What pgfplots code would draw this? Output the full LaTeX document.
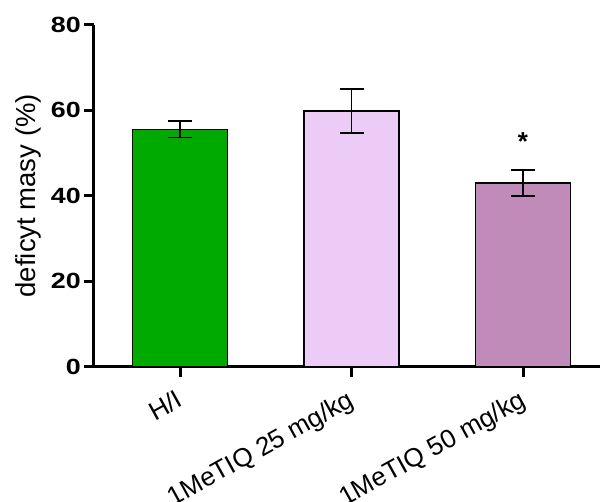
\documentclass[border=0pt]{standalone}
\usepackage{pgfplots}
\pgfplotsset{compat=1.18}
\usepackage{fontspec}
\setmainfont{Liberation Sans}
\usepackage{graphicx}
\definecolor{barG}{RGB}{0,170,0}
\definecolor{barP}{RGB}{236,204,246}
\definecolor{barM}{RGB}{192,139,184}
\begin{document}
\begin{tikzpicture}
\begin{axis}[
  scale only axis, width=506pt, height=342pt,
  xmin=-0.5015, xmax=2.449, ymin=0, ymax=80,
  axis x line=bottom, axis y line=left,
  axis line style={-, line width=3pt, black},
  ytick={0,20,40,60,80}, xtick={0,1,2},
  xticklabels={H/I, 1MeTIQ 25 mg/kg, 1MeTIQ 50 mg/kg},
  tick align=outside, major tick length=10pt,
  tick style={line width=3pt, black},
  yticklabel={\scalebox{1.22}[1]{\pgfmathprintnumber{\tick}}},
  yticklabel style={font=\fontsize{22}{22}\selectfont\bfseries, /pgf/number format/assume math mode=true, anchor=east, inner sep=0pt, xshift=-3pt},
  xticklabel style={font=\fontsize{26}{26}\selectfont, xshift=-5pt, yshift=-12pt, rotate=29, anchor=north east, inner sep=0pt},
  ylabel={deficyt masy (\%)},
  ylabel style={font=\fontsize{27.5}{27.5}\selectfont, at={([xshift=-53pt]axis description cs:0,0.5)}, anchor=south, inner sep=0pt},
  clip=false,
]
\addplot[ybar, bar width=95pt, bar shift=0pt, fill=barG, draw=black, line width=1.5pt,
  error bars/.cd, y dir=both, y explicit, error bar style={line width=1.4pt}, error mark options={rotate=90, line width=1.7pt, mark size=12pt}]
  coordinates {(0,55.5) +- (0,1.9)};
\addplot[ybar, bar width=95pt, bar shift=0pt, fill=barP, draw=black, line width=1.5pt,
  error bars/.cd, y dir=both, y explicit, error bar style={line width=1.4pt}, error mark options={rotate=90, line width=1.7pt, mark size=12pt}]
  coordinates {(1,59.8) +- (0,5.1)};
\addplot[ybar, bar width=95pt, bar shift=0pt, fill=barM, draw=black, line width=1.5pt,
  error bars/.cd, y dir=both, y explicit, error bar style={line width=1.4pt}, error mark options={rotate=90, line width=1.7pt, mark size=12pt}]
  coordinates {(2,43.0) +- (0,3.0)};
\node[font=\fontsize{26}{26}\selectfont\bfseries] at (axis cs:2,52.6) {*};
\end{axis}
\pgfresetboundingbox
\path[use as bounding box] ([xshift=-94pt,yshift=-135.3pt]current axis.south west) rectangle ([yshift=24.7pt]current axis.north east);
\end{tikzpicture}
\end{document}
